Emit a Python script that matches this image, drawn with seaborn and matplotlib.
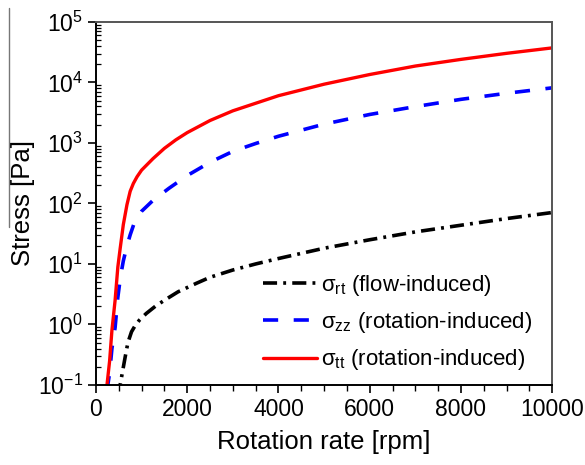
import numpy as np
import pandas as pd
import matplotlib
matplotlib.use("Agg")
import matplotlib.pyplot as plt
import seaborn as sns

# valores (rpm, log10 de la tension en Pa)
rpm_rt = [500, 530, 640, 700, 780, 850, 950, 1100, 1300, 1500, 1800, 2200, 2500, 3000,
          3500, 4000, 5000, 6000, 7000, 8000, 9000, 10000]
log_rt = [-1.2, -1.0, -0.54, -0.3, -0.12, -0.03, 0.07, 0.18, 0.3, 0.4, 0.54, 0.68, 0.78, 0.9,
          1.0, 1.09, 1.26, 1.4, 1.53, 1.64, 1.75, 1.85]

rpm_zz = [240, 300, 350, 420, 480, 540, 600, 680, 750, 850, 1000, 1250, 1600, 2000, 2500,
          3000, 3500, 4000, 5000, 6000, 7000, 8000, 9000, 10000]
log_zz = [-1.1, -0.8, -0.4, -0.05, 0.45, 0.8, 1.05, 1.3, 1.48, 1.7, 1.87, 2.05, 2.25, 2.46,
          2.68, 2.86, 2.99, 3.11, 3.31, 3.47, 3.6, 3.72, 3.82, 3.91]

rpm_tt = [220, 300, 350, 420, 480, 530, 600, 680, 750, 820, 900, 1000, 1250, 1500, 1750,
          2000, 2500, 3000, 4000, 5000, 6000, 7000, 8000, 9000, 10000]
log_tt = [-1.15, -0.6, -0.1, 0.4, 0.95, 1.25, 1.65, 1.98, 2.2, 2.33, 2.44, 2.55, 2.74, 2.91,
          3.05, 3.17, 3.37, 3.53, 3.78, 3.97, 4.13, 4.27, 4.38, 4.48, 4.57]

etiquetas = [r"$\mathregular{\sigma_{rt}}$ (flow-induced)",
             r"$\mathregular{\sigma_{zz}}$ (rotation-induced)",
             r"$\mathregular{\sigma_{tt}}$ (rotation-induced)"]

sns.set_style("ticks")
plt.rcParams["font.family"] = ["Liberation Sans", "DejaVu Sans"]
plt.rcParams["mathtext.fontset"] = "custom"
plt.rcParams["mathtext.rm"] = "Liberation Sans"
plt.rcParams["mathtext.it"] = "Liberation Sans:italic"
plt.rcParams["axes.unicode_minus"] = False
plt.rcParams["text.color"] = "black"
plt.rcParams["axes.labelcolor"] = "black"
plt.rcParams["xtick.color"] = "black"
plt.rcParams["ytick.color"] = "black"

fig = plt.figure(figsize=(5.85, 4.65), dpi=100)
ax = fig.add_axes([0.164, 0.172, 0.78, 0.781])

df_rt = pd.DataFrame({"rpm": rpm_rt, "stress": 10 ** np.array(log_rt)})
df_zz = pd.DataFrame({"rpm": rpm_zz, "stress": 10 ** np.array(log_zz)})
df_tt = pd.DataFrame({"rpm": rpm_tt, "stress": 10 ** np.array(log_tt)})

sns.lineplot(data=df_rt, x="rpm", y="stress", ax=ax, color="black", lw=2.6,
             label=etiquetas[0])
ax.lines[-1].set_dashes([3.9, 1.7, 0.8, 1.7])
sns.lineplot(data=df_zz, x="rpm", y="stress", ax=ax, color="#0000ff", lw=2.6,
             label=etiquetas[1])
ax.lines[-1].set_dashes([4.2, 4.3])
sns.lineplot(data=df_tt, x="rpm", y="stress", ax=ax, color="#ff0000", lw=2.4,
             label=etiquetas[2])

ax.set_yscale("log")
ax.set_xlim(0, 10000)
ax.set_ylim(0.1, 1e5)
ax.set_xticks(range(0, 10001, 2000))
ax.set_xticks(range(0, 10001, 500), minor=True)
ax.tick_params(axis="both", which="major", labelsize=16.5, width=1.2,
               length=6, direction="out")
ax.tick_params(axis="x", which="minor", length=4, width=1.0, direction="out")
ax.tick_params(axis="y", which="minor", length=3.5, width=0.9, direction="in")

for s in ax.spines.values():
    s.set_color("#555555")
    s.set_linewidth(1.4)
ax.spines["left"].set_color("black")
ax.spines["bottom"].set_color("black")

ax.set_xlabel("Rotation rate [rpm]", fontsize=18.5, labelpad=6)
ax.set_ylabel("Stress [Pa]", fontsize=18.5, labelpad=2)

leg = ax.legend(loc="lower right", bbox_to_anchor=(1.0, -0.02), frameon=False,
                fontsize=16, handlelength=2.4, handletextpad=0.2, labelspacing=0.55)

# linea gris sobre la etiqueta del eje y (como en la imagen original)
fig.add_artist(plt.Line2D([9 / 585, 9 / 585], [1 - 8 / 465, 1 - 227 / 465],
                          color="#777777", lw=1.0, transform=fig.transFigure))

fig.savefig("out.png", dpi=100)
